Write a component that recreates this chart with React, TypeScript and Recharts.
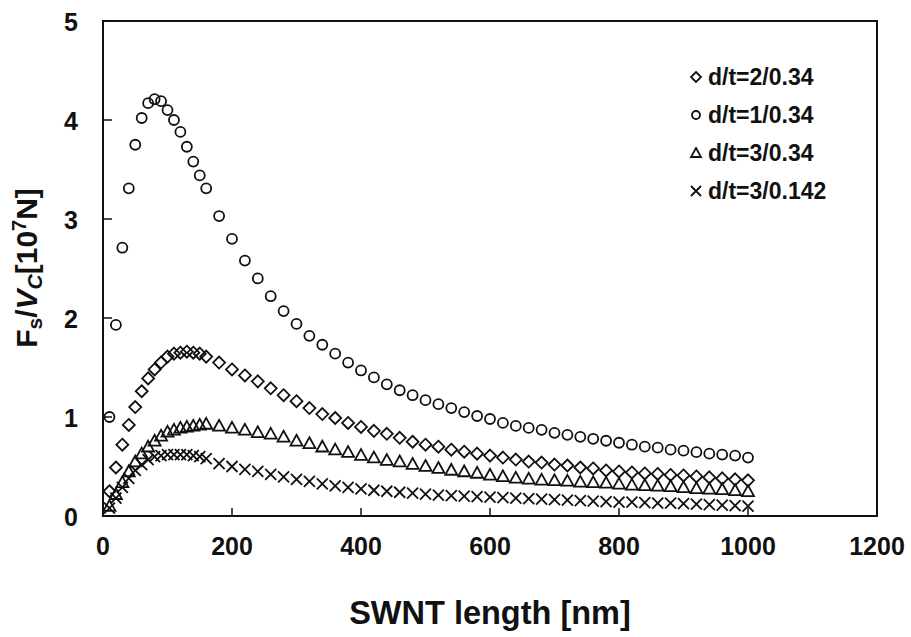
import { ScatterChart, Scatter, XAxis, YAxis, ReferenceArea } from "recharts";

const LENGTHS = [
  10, 20, 30, 40, 50, 60, 70, 80, 90, 100, 110, 120, 130, 140, 150, 160,
  180, 200, 220, 240, 260, 280, 300, 320, 340, 360, 380, 400, 420, 440, 460, 480, 500,
  520, 540, 560, 580, 600, 620, 640, 660, 680, 700, 720, 740, 760, 780, 800,
  820, 840, 860, 880, 900, 920, 940, 960, 980, 1000,
];

// d/t = 1/0.34 (circles)
const DT_1_034 = [
  1.0, 1.93, 2.71, 3.31, 3.75, 4.02, 4.17, 4.21, 4.19, 4.1, 4.0, 3.88, 3.73, 3.58, 3.44, 3.31,
  3.03, 2.8, 2.58, 2.4, 2.22, 2.07, 1.94, 1.82, 1.73, 1.64, 1.55, 1.47, 1.4, 1.33, 1.27, 1.22, 1.17,
  1.13, 1.09, 1.05, 1.01, 0.98, 0.94, 0.91, 0.89, 0.87, 0.84, 0.82, 0.8, 0.78, 0.76, 0.74,
  0.72, 0.7, 0.69, 0.67, 0.66, 0.645, 0.63, 0.62, 0.61, 0.59,
];

// d/t = 2/0.34 (diamonds)
const DT_2_034 = [
  0.25, 0.49, 0.72, 0.92, 1.1, 1.26, 1.39, 1.48, 1.55, 1.61, 1.64, 1.65, 1.66, 1.65, 1.64, 1.61,
  1.55, 1.48, 1.42, 1.36, 1.29, 1.22, 1.16, 1.09, 1.03, 0.99, 0.94, 0.9, 0.86, 0.83, 0.79, 0.75, 0.72,
  0.7, 0.67, 0.65, 0.63, 0.61, 0.59, 0.57, 0.55, 0.54, 0.52, 0.51, 0.49, 0.48, 0.46, 0.45,
  0.44, 0.43, 0.425, 0.415, 0.41, 0.4, 0.39, 0.38, 0.37, 0.36,
];

// d/t = 3/0.34 (triangles)
const DT_3_034 = [
  0.1, 0.22, 0.34, 0.45, 0.55, 0.63, 0.7, 0.76, 0.81, 0.85, 0.87, 0.89, 0.9, 0.91, 0.92, 0.93,
  0.91, 0.89, 0.87, 0.845, 0.83, 0.8, 0.76, 0.735, 0.7, 0.67, 0.645, 0.615, 0.59, 0.565, 0.55, 0.525, 0.505,
  0.485, 0.465, 0.45, 0.435, 0.415, 0.4, 0.385, 0.375, 0.365, 0.36, 0.355, 0.345, 0.34, 0.335, 0.325,
  0.315, 0.31, 0.305, 0.3, 0.29, 0.28, 0.275, 0.27, 0.26, 0.25,
];

// d/t = 3/0.142 (crosses)
const DT_3_0142 = [
  0.08, 0.18, 0.29, 0.38, 0.46, 0.52, 0.57, 0.6, 0.61, 0.62, 0.62, 0.62, 0.62, 0.61, 0.6, 0.58,
  0.53, 0.5, 0.47, 0.45, 0.42, 0.395, 0.37, 0.35, 0.325, 0.305, 0.29, 0.275, 0.26, 0.25, 0.24, 0.23, 0.22,
  0.21, 0.205, 0.2, 0.195, 0.19, 0.185, 0.18, 0.175, 0.17, 0.165, 0.16, 0.155, 0.15, 0.145, 0.14,
  0.14, 0.135, 0.13, 0.13, 0.125, 0.12, 0.115, 0.11, 0.105, 0.1,
];

const X_TICKS = [0, 200, 400, 600, 800, 1000, 1200];
const Y_TICKS = [0, 1, 2, 3, 4, 5];
const LEGEND = ["d/t=2/0.34", "d/t=1/0.34", "d/t=3/0.34", "d/t=3/0.142"];

const INK = "#111";
const FONT = "'Liberation Sans', Arial, sans-serif";

const toPoints = (vals: number[]) => LENGTHS.map((x, i) => ({ x, y: vals[i] }));

const Circle = ({ cx, cy, r = 5 }: any) => (
  <circle cx={cx} cy={cy} r={r} fill="none" stroke={INK} strokeWidth={1.8} />
);
const Diamond = ({ cx, cy, s = 6 }: any) => (
  <path d={`M${cx},${cy - s}L${cx + s},${cy}L${cx},${cy + s}L${cx - s},${cy}Z`} fill="none" stroke={INK} strokeWidth={1.8} />
);
const Triangle = ({ cx, cy, s = 6 }: any) => (
  <path d={`M${cx},${cy - s}L${cx + s},${cy + s * 0.8}L${cx - s},${cy + s * 0.8}Z`} fill="none" stroke={INK} strokeWidth={1.8} />
);
const Cross = ({ cx, cy, s = 5.5 }: any) => (
  <path d={`M${cx - s},${cy - s}L${cx + s},${cy + s}M${cx - s},${cy + s}L${cx + s},${cy - s}`} stroke={INK} strokeWidth={1.8} />
);

const YTick = ({ x, y, payload }: any) => (
  <g>
    <line x1={x} x2={x + 9} y1={y} y2={y} stroke={INK} strokeWidth={1.5} />
    <text x={x - 32} y={y + 10} textAnchor="middle" fontSize={25} fontWeight="bold" fontFamily={FONT} fill={INK}>
      {payload.value}
    </text>
  </g>
);

const XTick = ({ x, y, payload }: any) => (
  <g>
    <line x1={x} x2={x} y1={y} y2={y - 8} stroke={INK} strokeWidth={1.5} />
    <text x={x} y={y + 39} textAnchor="middle" fontSize={25} fontWeight="bold" fontFamily={FONT} fill={INK}>
      {payload.value}
    </text>
  </g>
);

const XTitle = ({ viewBox }: any) => (
  <text x={viewBox.x + viewBox.width / 2} y={624} textAnchor="middle" fontSize={32.5} fontWeight="bold" fontFamily={FONT} fill={INK}>
    SWNT length [nm]
  </text>
);

const YTitle = () => (
  <text transform="translate(37,268) rotate(-90)" textAnchor="middle" fontSize={30} fontWeight="bold" fontFamily={FONT} fill={INK}>
    F<tspan fontSize={21} dy={5}>s</tspan>
    <tspan dy={-5}>/</tspan>
    <tspan fontStyle="italic">V</tspan>
    <tspan fontSize={21} dy={5} fontStyle="italic">C</tspan>
    <tspan dy={-5}>[10</tspan>
    <tspan fontSize={20} dy={-11}>7</tspan>
    <tspan dy={11}>N]</tspan>
  </text>
);

const LEGEND_MARKS = [Diamond, Circle, Triangle, Cross];

export default function App() {
  return (
    <div style={{ position: "absolute", left: 0, top: 0, width: 911, height: 637, background: "#fff" }}>
      <ScatterChart width={911} height={637} margin={{ top: 21, right: 34, left: 43, bottom: 21 }}>
        <XAxis
          type="number"
          dataKey="x"
          domain={[0, 1200]}
          ticks={X_TICKS}
          tickSize={0}
          tickMargin={0}
          tick={<XTick />}
          height={100}
          axisLine={{ stroke: INK, strokeWidth: 2 }}
          label={<XTitle />}
        />
        <YAxis
          type="number"
          dataKey="y"
          domain={[0, 5]}
          ticks={Y_TICKS}
          tickSize={0}
          tickMargin={0}
          tick={<YTick />}
          width={60}
          axisLine={{ stroke: INK, strokeWidth: 2 }}
          label={<YTitle />}
        />
        <ReferenceArea x1={0} x2={1200} y1={0} y2={5} fill="none" stroke={INK} strokeWidth={2} />
        <Scatter data={toPoints(DT_2_034)} shape={(p: any) => <Diamond cx={p.cx} cy={p.cy} />} isAnimationActive={false} />
        <Scatter data={toPoints(DT_1_034)} shape={(p: any) => <Circle cx={p.cx} cy={p.cy} />} isAnimationActive={false} />
        <Scatter data={toPoints(DT_3_034)} shape={(p: any) => <Triangle cx={p.cx} cy={p.cy} />} isAnimationActive={false} />
        <Scatter data={toPoints(DT_3_0142)} shape={(p: any) => <Cross cx={p.cx} cy={p.cy} />} isAnimationActive={false} />
      </ScatterChart>
      <svg width={911} height={637} style={{ position: "absolute", left: 0, top: 0, pointerEvents: "none" }}>
        {LEGEND.map((name, i) => {
          const Mark = LEGEND_MARKS[i];
          const cy = 77 + i * 38;
          return (
            <g key={name}>
              <Mark cx={696} cy={cy} r={4} s={5} />
              <text x={708} y={cy + 8} fontSize={23} fontWeight="bold" fontFamily={FONT} fill={INK}>
                {name}
              </text>
            </g>
          );
        })}
      </svg>
    </div>
  );
}
